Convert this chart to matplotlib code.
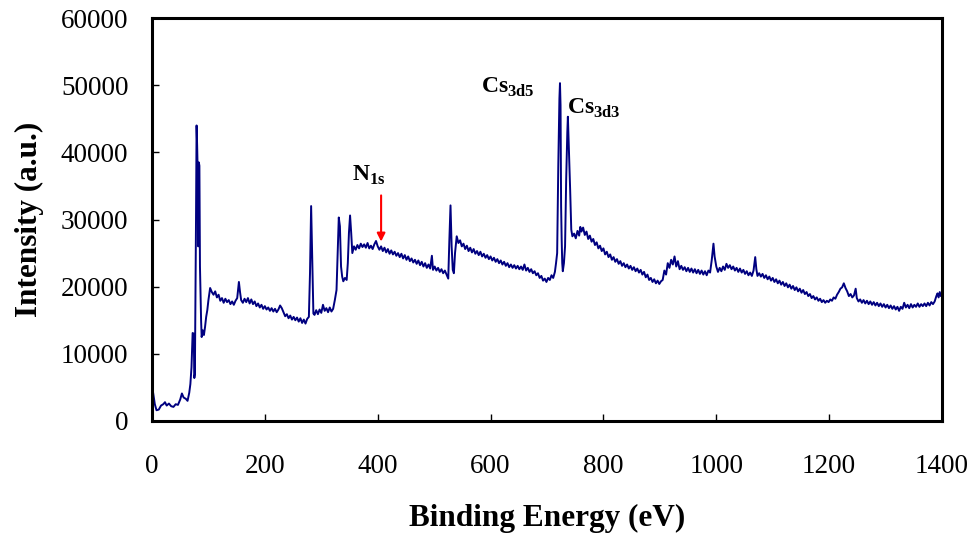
import matplotlib
matplotlib.use("Agg")
import matplotlib.pyplot as plt

energy = [
    0, 2, 5, 8, 12, 16, 20, 23, 26, 30, 34, 38, 42, 46, 50, 53, 56, 60, 63, 66, 68, 70, 72, 74, 75, 76, 78, 79, 80, 81, 82, 83, 84, 85, 87, 88, 90, 92, 94, 96, 98,
    100, 103, 106, 109, 112, 115, 118, 121, 124, 127, 130, 133, 136, 139, 142, 145, 148, 151, 154, 156, 158, 161, 164, 167, 170, 173, 176, 179, 182, 185, 188, 191, 194, 197,
    200, 203, 206, 209, 212, 215, 218, 221, 224, 227, 230, 233, 236, 239, 242, 245, 248, 251, 254, 257, 260, 263, 266, 269, 272, 275, 278, 280, 282, 284, 286, 288, 291, 294, 297,
    300, 303, 306, 309, 312, 315, 318, 321, 324, 327, 329, 331, 333, 335, 337, 339, 342, 345, 347, 349, 351, 353, 355, 358, 361, 364, 367, 370, 373, 376, 379, 382, 385, 388, 391, 394, 397,
    400, 403, 406, 409, 412, 415, 418, 421, 424, 427, 430, 433, 436, 439, 442, 445, 448, 451, 454, 457, 460, 463, 466, 469, 472, 475, 478, 481, 484, 487, 490, 493, 496, 498,
    501, 504, 507, 510, 513, 516, 519, 522, 525, 527, 529, 531, 533, 535, 537, 540, 543, 546, 549, 552, 555, 558, 561, 564, 567, 570, 573, 576, 579, 582, 585, 588, 591, 594, 597,
    600, 603, 606, 609, 612, 615, 618, 621, 624, 627, 630, 633, 636, 639, 642, 645, 648, 651, 654, 657, 660, 663, 666, 669, 672, 675, 678, 681, 684, 687, 690, 693, 696, 699,
    702, 705, 708, 711, 714, 716, 718, 720, 722, 723, 724, 725, 726, 727, 728, 730, 732, 734, 736, 737, 739, 741, 743, 745, 748, 751, 754, 757, 759, 761, 764, 767, 770, 773, 776, 779,
    782, 785, 788, 791, 794, 797, 800, 803, 806, 809, 812, 815, 818, 821, 824, 827, 830, 833, 836, 839, 842, 845, 848, 851, 854, 857, 860, 863, 866, 869, 872, 875, 878, 881, 884,
    887, 890, 893, 896, 899, 902, 905, 908, 911, 914, 917, 920, 923, 926, 929, 932, 935, 938, 941, 944, 947, 950, 953, 956, 959, 962, 965, 968, 971, 974, 977, 980, 983, 986, 989,
    992, 995, 997, 1000, 1003, 1006, 1009, 1012, 1015, 1018, 1021, 1024, 1027, 1030, 1033, 1036, 1039, 1042, 1045, 1048, 1051, 1054, 1057, 1060, 1063, 1066, 1069, 1071, 1073,
    1076, 1079, 1082, 1085, 1088, 1091, 1094, 1097, 1100, 1103, 1106, 1109, 1112, 1115, 1118, 1121, 1124, 1127, 1130, 1133, 1136, 1139, 1142, 1145, 1148, 1151, 1154, 1157,
    1160, 1163, 1166, 1169, 1172, 1175, 1178, 1181, 1184, 1187, 1190, 1193, 1196, 1199, 1202, 1205, 1208, 1211, 1214, 1217, 1220, 1223, 1226, 1229, 1232, 1235, 1238, 1241,
    1244, 1247, 1249, 1252, 1255, 1258, 1261, 1264, 1267, 1270, 1273, 1276, 1279, 1282, 1285, 1288, 1291, 1294, 1297, 1300, 1303, 1306, 1309, 1312, 1315, 1318, 1321, 1324,
    1327, 1330, 1333, 1336, 1339, 1342, 1345, 1348, 1351, 1354, 1357, 1360, 1363, 1366, 1369, 1372, 1375, 1378, 1381, 1384, 1387, 1390, 1392, 1394, 1396, 1398, 1400,
]

intensity = [
    4800, 4200, 2500, 1600, 1700, 2300, 2500, 2800, 2300, 2600, 2200, 2100, 2500, 2400, 3200, 4100, 3500, 3300, 3000, 4200, 5500, 8000, 13100, 13000, 6400, 7000, 30000, 44000, 41000, 37000, 26000, 38500, 38000, 23000, 15000, 12500, 13500, 12800, 14000, 15500, 16500,
    18000, 19800, 19200, 18800, 19300, 18400, 18800, 17900, 18300, 17600, 18200, 17700, 18000, 17400, 17800, 17300, 17900, 18300, 20700, 19200, 18000, 17600, 18200, 17700, 18300, 17500, 18100, 17400, 17800, 17100, 17500, 16900, 17300, 16700,
    17100, 16600, 16900, 16400, 16800, 16300, 16700, 16200, 16600, 17200, 16800, 16200, 15600, 15900, 15300, 15700, 15100, 15500, 15000, 15400, 14800, 15300, 14600, 15100, 14500, 15200, 15500, 22000, 32000, 24000, 16000, 15800, 16500, 15900, 16600,
    16100, 17300, 16400, 16800, 16200, 16900, 16300, 16700, 18000, 19500, 25000, 30300, 29000, 23000, 21500, 20800, 21300, 21000, 23500, 28000, 30600, 28000, 25000, 26000, 25500, 26200, 25700, 26400, 25900, 26300, 25800, 26500, 25700, 26100, 25600, 26300, 26800,
    26000, 25500, 26000, 25300, 25800, 25100, 25600, 24900, 25400, 24800, 25200, 24600, 25000, 24400, 24900, 24200, 24700, 24000, 24500, 23800, 24200, 23600, 24000, 23400, 23900, 23200, 23700, 23000, 23500, 22800, 23300, 22700, 24600, 22500,
    23000, 22400, 22800, 22200, 22600, 22000, 22400, 21800, 21200, 27000, 32100, 26000, 22500, 22000, 25000, 27500, 26500, 26900, 26000, 26400, 25600, 26100, 25300, 25800, 25100, 25600, 24900, 25300, 24700, 25200, 24500, 24900, 24300, 24700, 24100,
    24500, 23900, 24300, 23700, 24100, 23500, 23900, 23300, 23700, 23100, 23500, 22900, 23300, 22800, 23200, 22700, 23100, 22600, 23000, 22500, 23300, 22400, 22800, 22200, 22600, 22000, 22300, 21700, 22000, 21300, 21600, 20900, 21200, 20700,
    21300, 21000, 21700, 21300, 22200, 23500, 25000, 38000, 48000, 50300, 47000, 32000, 27000, 23500, 22300, 23500, 26000, 36000, 43000, 45300, 40000, 34500, 28500, 27500, 27900, 27200, 28300, 27600, 28900, 28200, 28800, 27700, 28200, 27100, 27600, 26700,
    27100, 26200, 26600, 25700, 26100, 25300, 25700, 24800, 25200, 24400, 24800, 24000, 24400, 23700, 24100, 23400, 23800, 23100, 23500, 22900, 23300, 22700, 23100, 22500, 22900, 22300, 22700, 22100, 22500, 21800, 22200, 21400, 21800, 21000, 21300,
    20700, 21100, 20500, 20900, 20400, 20800, 21000, 22400, 21800, 23500, 22800, 24000, 23300, 24500, 23000, 23800, 22600, 23100, 22500, 22900, 22300, 22800, 22200, 22700, 22100, 22600, 22000, 22500, 21900, 22400, 21800, 22300, 21700, 22400, 22100,
    24000, 26400, 24500, 23000, 22200, 22800, 22300, 23000, 22500, 23400, 22800, 23200, 22600, 23000, 22400, 22800, 22200, 22700, 22100, 22500, 21900, 22300, 21700, 22100, 21600, 22400, 24400, 22600, 21600,
    22000, 21500, 21900, 21300, 21700, 21100, 21500, 20900, 21300, 20700, 21100, 20500, 20900, 20300, 20700, 20100, 20500, 19900, 20300, 19700, 20100, 19500, 19900, 19300, 19700, 19100, 19500, 18900,
    19200, 18600, 18900, 18300, 18600, 18100, 18400, 17900, 18200, 17700, 18000, 17600, 17900, 17700, 18100, 17900, 18400, 18200, 18800, 19200, 19700, 19900, 20500, 19800, 19300, 18600, 18900, 18400,
    18700, 19700, 18300, 17800, 18100, 17600, 18000, 17500, 17900, 17400, 17800, 17300, 17700, 17200, 17600, 17100, 17500, 17000, 17400, 16900, 17300, 16800, 17200, 16700, 17100, 16600, 17000, 16400,
    17000, 16700, 17600, 16900, 17300, 16800, 17400, 16900, 17300, 17000, 17500, 17000, 17400, 17100, 17500, 17100, 17600, 17200, 17700, 17400, 17800, 18600, 19000, 18400, 19200, 18600, 18800,
]

x_ticks = [0, 200, 400, 600, 800, 1000, 1200, 1400]
y_ticks = [0, 10000, 20000, 30000, 40000, 50000, 60000]

plt.rcParams['font.family'] = ['Liberation Serif', 'DejaVu Serif']
plt.rcParams['mathtext.fontset'] = 'custom'
plt.rcParams['mathtext.rm'] = 'Liberation Serif'
plt.rcParams['mathtext.bf'] = 'Liberation Serif:bold'

fig = plt.figure(figsize=(9.74, 5.40), dpi=100)
ax = fig.add_axes([152/974, 1 - 421/540, 790/974, 403/540])

ax.plot(energy, intensity, color='#000080', linewidth=1.4)

ax.set_xlim(0, 1400)
ax.set_ylim(0, 60000)
ax.set_xticks(x_ticks)
ax.set_yticks(y_ticks)
ax.tick_params(direction='in', length=5, width=1, labelsize=19.5)
ax.tick_params(axis='y', pad=17)
ax.tick_params(axis='x', pad=24)
for s in ax.spines.values():
    s.set_linewidth(2.2)

ax.set_xlabel('Binding Energy (eV)', fontsize=22.5, fontweight='bold', labelpad=18)
ax.set_ylabel('Intensity (a.u.)', fontsize=22.5, fontweight='bold', labelpad=12)

ax.text(583, 49600, r'$\mathbf{Cs}_{\mathbf{3d5}}$', fontsize=17, va='center', ha='left')
ax.text(735, 46600, r'$\mathbf{Cs}_{\mathbf{3d3}}$', fontsize=17, va='center', ha='left')
ax.text(354, 36500, r'$\mathbf{N}_{\mathbf{1s}}$', fontsize=17, va='center', ha='left')
ax.annotate('', xy=(406, 26300), xytext=(406, 34000),
            arrowprops=dict(arrowstyle='-|>', color='red', lw=1.5, mutation_scale=12))

fig.savefig('out.png', dpi=100)
